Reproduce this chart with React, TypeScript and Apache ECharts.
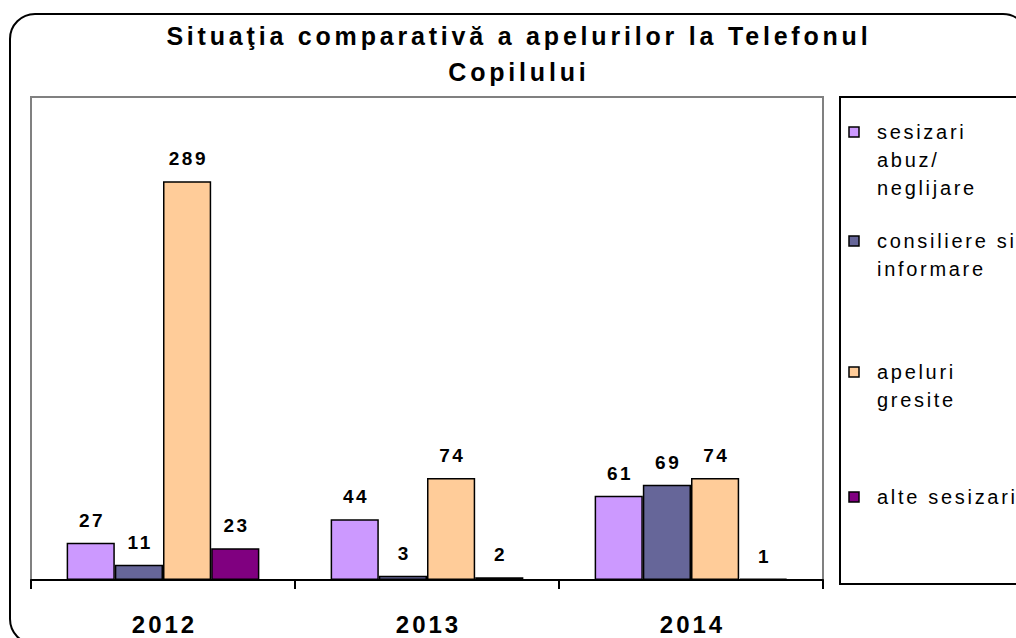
import React, { useEffect, useRef } from "react";
import * as echarts from "echarts";

const categories = ["2012", "2013", "2014"];
const seriesNames = [
  "sesizari abuz/ neglijare",
  "consiliere si informare",
  "apeluri gresite",
  "alte sesizari",
];
const legendLines = [
  "sesizari\nabuz/\nneglijare",
  "consiliere si\ninformare",
  "apeluri\ngresite",
  "alte sesizari",
];
const sesizari = [27, 44, 61];
const consiliere = [11, 3, 69];
const apeluri = [289, 74, 74];
const alte = [23, 2, 1];
const colors = ["#CC99FF", "#666699", "#FFCC99", "#800080"];
const legendY = [132, 241, 372, 497];

// letter spacing by font size (px)
const spacingBySize: Record<string, number> = {
  "25px": 3.8,
  "20px": 2.7,
  "19px": 2.5,
  "24px": 3,
};

export default function App() {
  const ref = useRef<HTMLDivElement>(null);
  useEffect(() => {
    if (!ref.current) return;
    const chart = echarts.init(ref.current, null, { renderer: "svg" });
    const values = [sesizari, consiliere, apeluri, alte];
    const font = "'Liberation Sans', Arial, sans-serif";
    const legendGraphics: any[] = [];
    legendLines.forEach((t, i) => {
      legendGraphics.push({
        type: "rect",
        shape: { x: 849, y: legendY[i] - 5, width: 10, height: 10 },
        style: { fill: colors[i], stroke: "#000", lineWidth: 1.5 },
        z: 10,
      });
      legendGraphics.push({
        type: "text",
        x: 877,
        y: legendY[i] - 14,
        style: {
          text: t,
          fontSize: 20,
          fontFamily: font,
          fill: "#000",
          lineHeight: 28,
          verticalAlign: "top",
        },
        z: 10,
      });
    });
    chart.setOption({
      animation: false,
      backgroundColor: "#fff",
      title: {
        text: "Situaţia comparativă a apelurilor la Telefonul\nCopilului",
        left: 512,
        top: 13,
        textAlign: "center",
        textStyle: {
          fontSize: 25,
          fontWeight: "bold",
          fontFamily: font,
          color: "#000",
          lineHeight: 36,
        },
      },
      grid: {
        left: 31,
        top: 97,
        right: 193,
        bottom: 58,
        show: true,
        borderColor: "#808080",
        borderWidth: 2,
        backgroundColor: "transparent",
      },
      xAxis: {
        type: "category",
        data: categories,
        axisLine: { lineStyle: { color: "#000", width: 2 } },
        axisTick: { show: true, length: 9, lineStyle: { color: "#000", width: 2 } },
        axisLabel: {
          fontSize: 24,
          fontWeight: "bold",
          fontFamily: font,
          color: "#000",
          margin: 32,
        },
      },
      yAxis: {
        type: "value",
        min: 0,
        max: 350,
        show: false,
        splitLine: { show: false },
      },
      graphic: [
        {
          type: "rect",
          shape: { x: 10, y: 14, width: 1018, height: 630, r: 25 },
          style: { fill: "none", stroke: "#000", lineWidth: 2 },
          z: 0,
        },
        {
          type: "rect",
          shape: { x: 840, y: 97, width: 300, height: 487 },
          style: { fill: "none", stroke: "#000", lineWidth: 2 },
          z: 10,
        },
        ...legendGraphics,
      ],
      series: values.map((v, i) => ({
        name: seriesNames[i],
        type: "bar",
        data: v,
        barGap: "0%",
        barCategoryGap: "27%",
        itemStyle: { color: colors[i], borderColor: "#000", borderWidth: 1.5 },
        label: {
          show: true,
          position: "top",
          distance: 13,
          fontSize: 19,
          fontWeight: "bold",
          fontFamily: font,
          color: "#000",
        },
      })),
    });
    // widen letter spacing of the rendered SVG texts to match the original look
    const texts = ref.current.querySelectorAll("text");
    texts.forEach((el) => {
      const fs = window.getComputedStyle(el).fontSize;
      const sp = spacingBySize[fs];
      if (sp) {
        (el as SVGTextElement).style.letterSpacing = sp + "px";
        const anchor = el.getAttribute("text-anchor") || window.getComputedStyle(el).textAnchor;
        if (anchor === "middle") el.setAttribute("dx", String(sp / 2));
      }
    });
    return () => chart.dispose();
  }, []);
  return (
    <div
      ref={ref}
      style={{ position: "absolute", left: 0, top: 0, width: 1016, height: 638 }}
    />
  );
}
